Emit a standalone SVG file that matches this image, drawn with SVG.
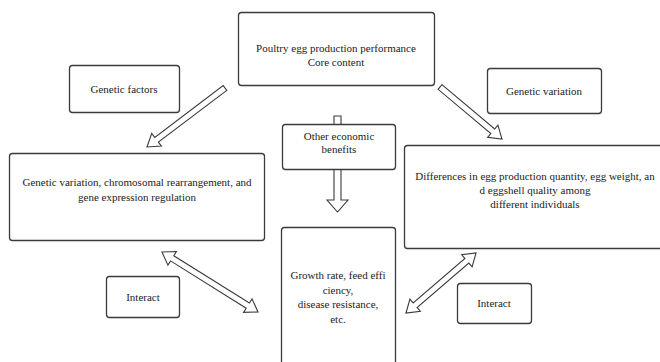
<svg xmlns="http://www.w3.org/2000/svg" width="660" height="362" viewBox="0 0 660 362">
<style>
.box{fill:#fff;stroke:#3a3a3a;stroke-width:1.3}
.arr{fill:#fff;stroke:#3a3a3a;stroke-width:1.1;stroke-linejoin:miter}
text{font-family:"Liberation Serif","Times New Roman",serif;font-size:11px;fill:#222;text-anchor:middle}
</style>
<rect width="660" height="362" fill="#fff"/>
<g id="connectors">
<polygon class="arr" points="334,116 341,116 341,200 348,200 337.5,212 327,200 334,200"/>
<g transform="translate(225,88) rotate(142.9)"><polygon class="arr" points="0,-3 85.8,-3 85.8,-8 97.8,0 85.8,8 85.8,3 0,3"/></g>
<g transform="translate(440,87) rotate(40)"><polygon class="arr" points="0,-3 68.9,-3 68.9,-8 80.9,0 68.9,8 68.9,3 0,3"/></g>
<g transform="translate(162,252) rotate(32)"><polygon class="arr" points="0,0 12,-8 12,-3 101.2,-3 101.2,-8 113.2,0 101.2,8 101.2,3 12,3 12,8"/></g>
<g transform="translate(406,313) rotate(-40.6)"><polygon class="arr" points="0,0 12,-8 12,-3 80.2,-3 80.2,-8 92.2,0 80.2,8 80.2,3 12,3 12,8"/></g>
</g>
<g id="core">
<rect class="box" x="238.5" y="12.5" width="196" height="73" rx="3"/>
<text x="336" y="52">Poultry egg production performance</text>
<text x="336" y="66">Core content</text>
</g>
<g id="genetic-factors">
<rect class="box" x="69.5" y="65.5" width="110" height="47" rx="3"/>
<text x="124" y="93">Genetic factors</text>
</g>
<g id="genetic-variation">
<rect class="box" x="487.5" y="68.5" width="114" height="45" rx="3"/>
<text x="544" y="95">Genetic variation</text>
</g>
<g id="other-benefits">
<rect class="box" x="282.5" y="124.5" width="113" height="45" rx="3"/>
<text x="339" y="140">Other economic</text>
<text x="339" y="153">benefits</text>
</g>
<g id="left-detail">
<rect class="box" x="9.5" y="153.5" width="255" height="87" rx="3"/>
<text x="137" y="186">Genetic variation, chromosomal rearrangement, and</text>
<text x="137" y="201">gene expression regulation</text>
</g>
<g id="right-detail">
<rect class="box" x="404.5" y="145.5" width="262" height="103" rx="3"/>
<text x="535" y="180">Differences in egg production quantity, egg weight, an</text>
<text x="535" y="194">d eggshell quality among</text>
<text x="535" y="208">different individuals</text>
</g>
<g id="growth">
<rect class="box" x="281.5" y="227.5" width="114" height="140" rx="3"/>
<text x="338" y="279">Growth rate, feed effi</text>
<text x="338" y="294">ciency,</text>
<text x="338" y="308">disease resistance,</text>
<text x="338" y="323">etc.</text>
</g>
<g id="interact-left">
<rect class="box" x="106.5" y="276.5" width="73" height="41" rx="3"/>
<text x="143" y="301">Interact</text>
</g>
<g id="interact-right">
<rect class="box" x="457.5" y="283.5" width="74" height="40" rx="3"/>
<text x="494" y="307">Interact</text>
</g>
</svg>
